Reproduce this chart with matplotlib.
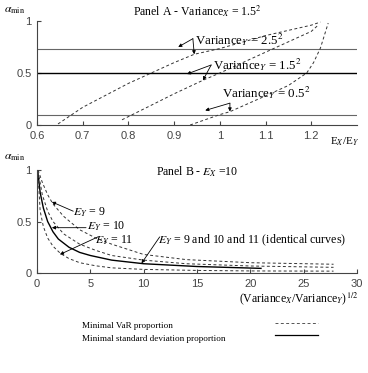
import matplotlib.pyplot as plt
from matplotlib.lines import Line2D

plt.rcParams['font.family'] = 'Liberation Serif'
plt.rcParams['mathtext.fontset'] = 'stix'

# Panel A - alpha_min against E_X/E_Y, Variance_X = 1.5^2
ratio_v25 = [0.646, 0.70, 0.80, 0.90, 0.944, 1.00, 1.10, 1.20, 1.22]
var_v25 = [0.01, 0.17, 0.40, 0.60, 0.68, 0.735, 0.86, 0.96, 0.99]
ratio_v15 = [0.786, 0.85, 0.90, 0.963, 1.00, 1.10, 1.20, 1.215]
var_v15 = [0.05, 0.19, 0.30, 0.43, 0.50, 0.70, 0.90, 0.96]
ratio_v05 = [0.935, 1.00, 1.022, 1.10, 1.15, 1.19, 1.205, 1.22, 1.237]
var_v05 = [0.0, 0.10, 0.128, 0.28, 0.38, 0.50, 0.60, 0.74, 0.98]
std_levels = [0.735, 0.5, 0.1]
std_colors = ['#666666', 'black', '#666666']
xticks_a = [0.6, 0.7, 0.8, 0.9, 1.0, 1.1, 1.2]
xticklabels_a = ['0.6', '0.7', '0.8', '0.9', '1', '1.1', '1.2']

# Panel B - alpha_min against (Var_X/Var_Y)^(1/2), E_X = 10
sd_x = [0.1, 0.3, 0.6, 1.0, 1.5, 2.0, 3.0, 4.0, 5.0, 7.0, 10.0, 15.0, 21.0]
sd_y = [0.96, 0.78, 0.63, 0.50, 0.40, 0.33, 0.25, 0.20, 0.17, 0.125, 0.09, 0.063, 0.045]
var9_x = [0.1, 0.5, 1.0, 1.5, 2.5, 4.0, 5.5, 7.0, 10.0, 14.0, 20.0, 27.8]
var9_y = [1.0, 0.88, 0.76, 0.67, 0.55, 0.42, 0.34, 0.28, 0.18, 0.13, 0.10, 0.085]
var10_x = [0.1, 0.5, 1.0, 1.5, 2.5, 4.0, 5.5, 7.0, 10.0, 14.0, 20.0, 27.8]
var10_y = [0.99, 0.76, 0.60, 0.50, 0.38, 0.28, 0.22, 0.17, 0.125, 0.09, 0.068, 0.055]
var11_x = [0.1, 0.3, 0.6, 1.0, 1.5, 2.2, 3.0, 4.0, 5.5, 7.0, 10.0, 15.0, 20.0, 27.8]
var11_y = [0.95, 0.60, 0.45, 0.34, 0.26, 0.19, 0.14, 0.10, 0.07, 0.05, 0.035, 0.025, 0.02, 0.018]
xticks_b = [0, 5, 10, 15, 20, 25, 30]

dash = (0, (3, 2.5))
tick_font = {'family': 'Liberation Sans', 'size': 8, 'color': '#444444'}


def style_axes(ax):
    for side in ['top', 'right']:
        ax.spines[side].set_visible(False)
    for side in ['left', 'bottom']:
        ax.spines[side].set_color('#444444')
        ax.spines[side].set_linewidth(0.8)
    ax.tick_params(direction='in', length=3, width=0.8, color='#444444', pad=4)
    ax.set_ylim(0, 1)
    ax.set_yticks([0, 0.5, 1])
    ax.set_yticklabels(['0', '0.5', '1'], fontdict=tick_font)


fig = plt.figure(figsize=(3.68, 3.73), dpi=100)

# ---- Panel A
ax1 = fig.add_axes([0.1005, 0.6649, 0.8696, 0.2788])
style_axes(ax1)
for lev, col in zip(std_levels, std_colors):
    ax1.axhline(lev, color=col, linewidth=1.0 if col == 'black' else 0.8)
for xs, ys in [(ratio_v25, var_v25), (ratio_v15, var_v15), (ratio_v05, var_v05)]:
    ax1.plot(xs, ys, color='#333333', linestyle=dash, linewidth=0.7)
ax1.set_xlim(0.6, 1.3)
ax1.set_xticks(xticks_a)
ax1.set_xticklabels(xticklabels_a, fontdict=tick_font)
ax1.set_title(r'Panel A - Variance$_X$ = 1.5$^2$', fontsize=8.5, pad=4)

arrow = dict(arrowstyle='-|>', color='black', linewidth=0.6, mutation_scale=5, shrinkA=0, shrinkB=0)
ann_a = [
    (r'Variance$_Y$ = 2.5$^2$', (0.946, 0.82), (0.941, 0.83), [(0.909, 0.75), (0.944, 0.68)]),
    (r'Variance$_Y$ = 1.5$^2$', (0.985, 0.577), (0.981, 0.577), [(0.928, 0.49), (0.963, 0.43)]),
    (r'Variance$_Y$ = 0.5$^2$', (1.005, 0.31), (1.022, 0.21), [(0.968, 0.14), (1.022, 0.13)]),
]
for label, txt, tail, heads in ann_a:
    ax1.text(txt[0], txt[1], label, fontsize=9.3, va='center', ha='left')
    for h in heads:
        ax1.annotate('', xy=h, xytext=tail, arrowprops=arrow)
ax1.text(1.24, -0.16, r'E$_X$/E$_Y$', fontsize=8, va='center', ha='left', clip_on=False)

# ---- Panel B
ax2 = fig.add_axes([0.1005, 0.2681, 0.8696, 0.2761])
style_axes(ax2)
ax2.plot(sd_x, sd_y, color='black', linewidth=1.0)
for xs, ys in [(var9_x, var9_y), (var10_x, var10_y), (var11_x, var11_y)]:
    ax2.plot(xs, ys, color='#333333', linestyle=dash, linewidth=0.7)
ax2.set_xlim(0, 30)
ax2.set_xticks(xticks_b)
ax2.set_xticklabels([str(t) for t in xticks_b], fontdict=tick_font)
ax2.text(15, 0.98, r'Panel B - $E_X$ =10', fontsize=8.5, ha='center', va='center')

ann_b = [
    (r'$E_Y$ = 9', (3.4, 0.59), (3.4, 0.6), (1.4, 0.69)),
    (r'$E_Y$ = 10', (4.7, 0.45), (4.6, 0.44), (1.4, 0.44)),
    (r'$E_Y$ = 11', (5.4, 0.32), (5.7, 0.35), (2.15, 0.18)),
    (r'$E_Y$ = 9 and 10 and 11 (identical curves)', (11.3, 0.32), (11.5, 0.35), (9.8, 0.094)),
]
for label, txt, tail, head in ann_b:
    ax2.text(txt[0], txt[1], label, fontsize=8.6, va='center', ha='left')
    ax2.annotate('', xy=head, xytext=tail, arrowprops=arrow)

# axis labels
fig.text(0.012, 0.972, r'$\alpha_{\rm min}$', fontsize=8.5, va='center', ha='left')
fig.text(0.012, 0.578, r'$\alpha_{\rm min}$', fontsize=8.5, va='center', ha='left')
fig.text(0.973, 0.198, r'(Variance$_X$/Variance$_Y$)$^{1/2}$', fontsize=8.5, va='center', ha='right')

# legend at the bottom
fig.text(0.223, 0.126, 'Minimal VaR proportion', fontsize=6.6, va='center', ha='left')
fig.text(0.223, 0.091, 'Minimal standard deviation proportion', fontsize=6.6, va='center', ha='left')
fig.add_artist(Line2D([0.747, 0.864], [0.134, 0.134], color='#555555', linestyle=dash, linewidth=0.7))
fig.add_artist(Line2D([0.747, 0.864], [0.102, 0.102], color='black', linewidth=0.9))

fig.savefig('out.png', dpi=100)
